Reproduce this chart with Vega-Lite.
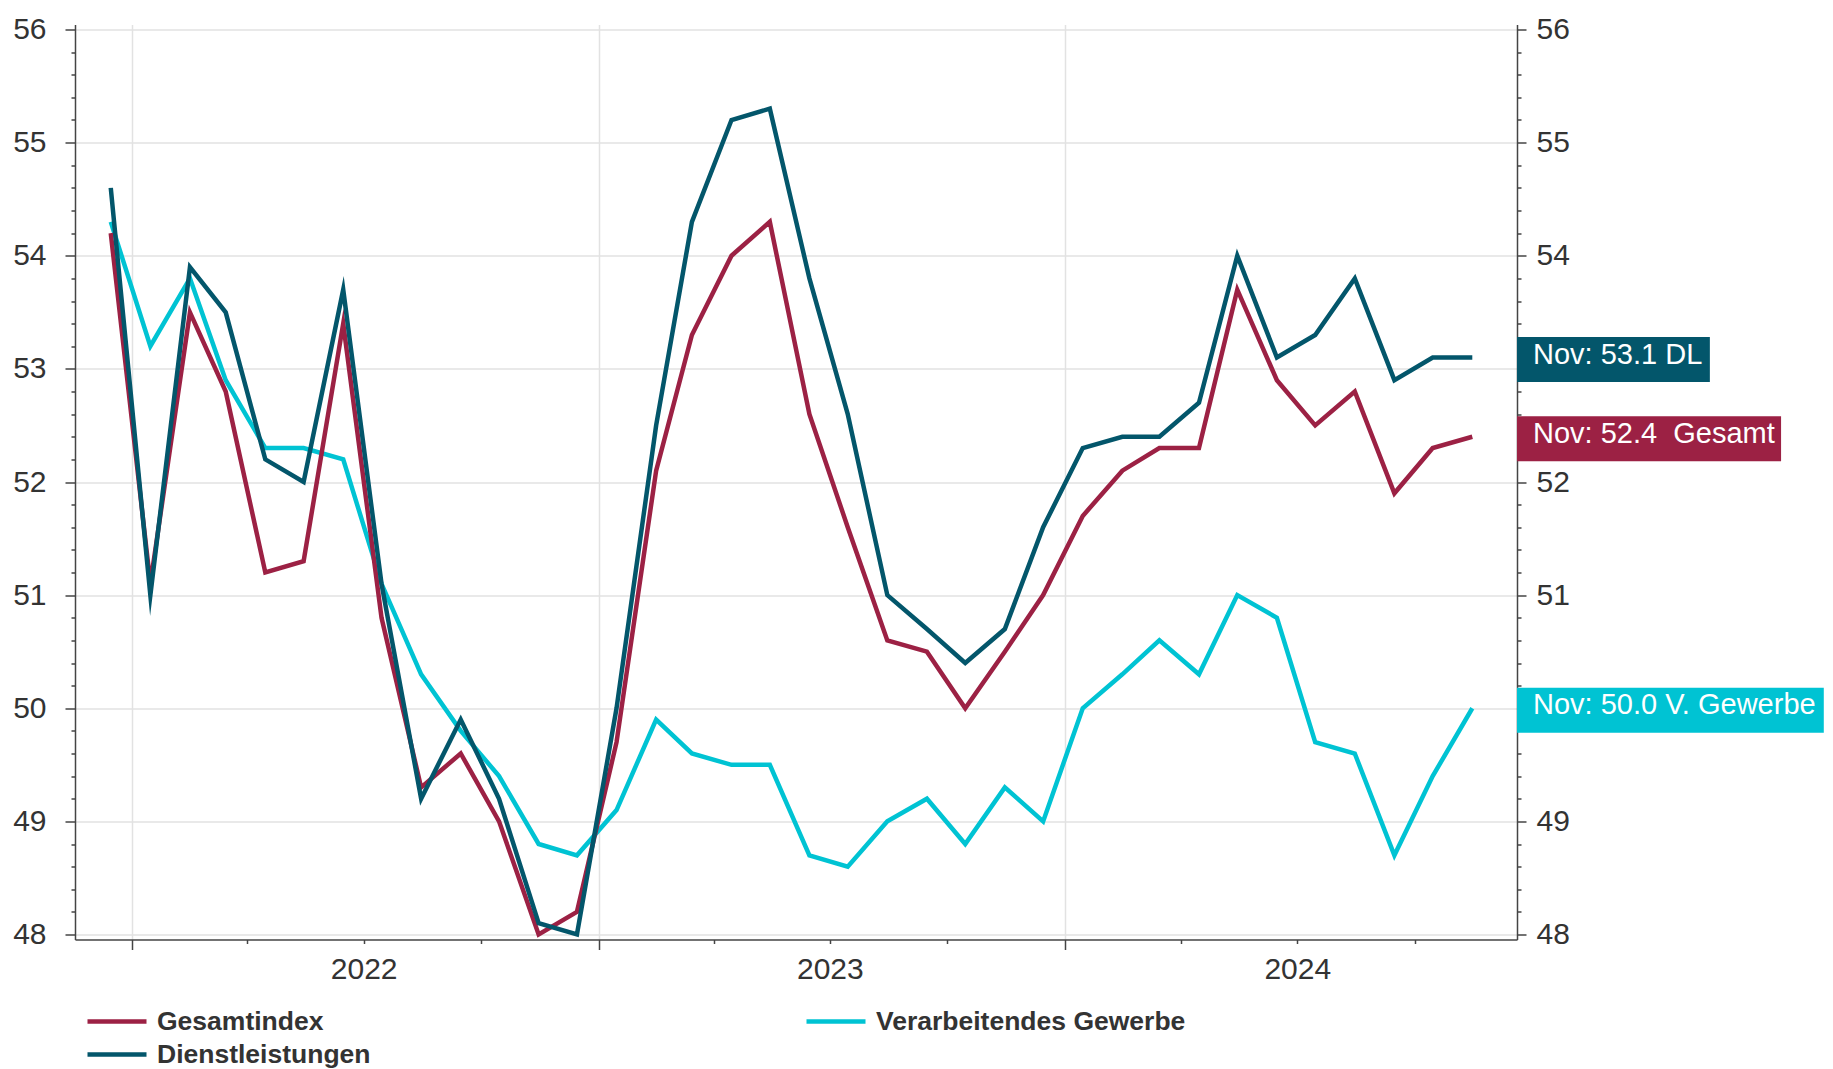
{
  "$schema": "https://vega.github.io/schema/vega-lite/v6.json",
  "width": 1442,
  "height": 915,
  "autosize": {"type": "none"},
  "padding": {"left": 75, "top": 24.5, "right": 316, "bottom": 129.5},
  "background": "white",
  "config": {
    "view": {"stroke": null},
    "font": "Liberation Sans",
    "axis": {"labelFont": "Liberation Sans", "titleFont": "Liberation Sans"},
    "legend": {"labelFont": "Liberation Sans"}
  },
  "datasets": {
    "pmi": [
      {"date": "2021-12-15", "Gesamtindex": 54.2, "Dienstleistungen": 54.6, "Verarbeitendes Gewerbe": 54.3},
      {"date": "2022-01-15", "Gesamtindex": 51.1, "Dienstleistungen": 51.0, "Verarbeitendes Gewerbe": 53.2},
      {"date": "2022-02-15", "Gesamtindex": 53.5, "Dienstleistungen": 53.9, "Verarbeitendes Gewerbe": 53.8},
      {"date": "2022-03-15", "Gesamtindex": 52.8, "Dienstleistungen": 53.5, "Verarbeitendes Gewerbe": 52.9},
      {"date": "2022-04-15", "Gesamtindex": 51.2, "Dienstleistungen": 52.2, "Verarbeitendes Gewerbe": 52.3},
      {"date": "2022-05-15", "Gesamtindex": 51.3, "Dienstleistungen": 52.0, "Verarbeitendes Gewerbe": 52.3},
      {"date": "2022-06-15", "Gesamtindex": 53.4, "Dienstleistungen": 53.7, "Verarbeitendes Gewerbe": 52.2},
      {"date": "2022-07-15", "Gesamtindex": 50.8, "Dienstleistungen": 51.1, "Verarbeitendes Gewerbe": 51.1},
      {"date": "2022-08-15", "Gesamtindex": 49.3, "Dienstleistungen": 49.2, "Verarbeitendes Gewerbe": 50.3},
      {"date": "2022-09-15", "Gesamtindex": 49.6, "Dienstleistungen": 49.9, "Verarbeitendes Gewerbe": 49.8},
      {"date": "2022-10-15", "Gesamtindex": 49.0, "Dienstleistungen": 49.2, "Verarbeitendes Gewerbe": 49.4},
      {"date": "2022-11-15", "Gesamtindex": 48.0, "Dienstleistungen": 48.1, "Verarbeitendes Gewerbe": 48.8},
      {"date": "2022-12-15", "Gesamtindex": 48.2, "Dienstleistungen": 48.0, "Verarbeitendes Gewerbe": 48.7},
      {"date": "2023-01-15", "Gesamtindex": 49.7, "Dienstleistungen": 50.0, "Verarbeitendes Gewerbe": 49.1},
      {"date": "2023-02-15", "Gesamtindex": 52.1, "Dienstleistungen": 52.5, "Verarbeitendes Gewerbe": 49.9},
      {"date": "2023-03-15", "Gesamtindex": 53.3, "Dienstleistungen": 54.3, "Verarbeitendes Gewerbe": 49.6},
      {"date": "2023-04-15", "Gesamtindex": 54.0, "Dienstleistungen": 55.2, "Verarbeitendes Gewerbe": 49.5},
      {"date": "2023-05-15", "Gesamtindex": 54.3, "Dienstleistungen": 55.3, "Verarbeitendes Gewerbe": 49.5},
      {"date": "2023-06-15", "Gesamtindex": 52.6, "Dienstleistungen": 53.8, "Verarbeitendes Gewerbe": 48.7},
      {"date": "2023-07-15", "Gesamtindex": 51.6, "Dienstleistungen": 52.6, "Verarbeitendes Gewerbe": 48.6},
      {"date": "2023-08-15", "Gesamtindex": 50.6, "Dienstleistungen": 51.0, "Verarbeitendes Gewerbe": 49.0},
      {"date": "2023-09-15", "Gesamtindex": 50.5, "Dienstleistungen": 50.7, "Verarbeitendes Gewerbe": 49.2},
      {"date": "2023-10-15", "Gesamtindex": 50.0, "Dienstleistungen": 50.4, "Verarbeitendes Gewerbe": 48.8},
      {"date": "2023-11-15", "Gesamtindex": 50.5, "Dienstleistungen": 50.7, "Verarbeitendes Gewerbe": 49.3},
      {"date": "2023-12-15", "Gesamtindex": 51.0, "Dienstleistungen": 51.6, "Verarbeitendes Gewerbe": 49.0},
      {"date": "2024-01-15", "Gesamtindex": 51.7, "Dienstleistungen": 52.3, "Verarbeitendes Gewerbe": 50.0},
      {"date": "2024-02-15", "Gesamtindex": 52.1, "Dienstleistungen": 52.4, "Verarbeitendes Gewerbe": 50.3},
      {"date": "2024-03-15", "Gesamtindex": 52.3, "Dienstleistungen": 52.4, "Verarbeitendes Gewerbe": 50.6},
      {"date": "2024-04-15", "Gesamtindex": 52.3, "Dienstleistungen": 52.7, "Verarbeitendes Gewerbe": 50.3},
      {"date": "2024-05-15", "Gesamtindex": 53.7, "Dienstleistungen": 54.0, "Verarbeitendes Gewerbe": 51.0},
      {"date": "2024-06-15", "Gesamtindex": 52.9, "Dienstleistungen": 53.1, "Verarbeitendes Gewerbe": 50.8},
      {"date": "2024-07-15", "Gesamtindex": 52.5, "Dienstleistungen": 53.3, "Verarbeitendes Gewerbe": 49.7},
      {"date": "2024-08-15", "Gesamtindex": 52.8, "Dienstleistungen": 53.8, "Verarbeitendes Gewerbe": 49.6},
      {"date": "2024-09-15", "Gesamtindex": 51.9, "Dienstleistungen": 52.9, "Verarbeitendes Gewerbe": 48.7},
      {"date": "2024-10-15", "Gesamtindex": 52.3, "Dienstleistungen": 53.1, "Verarbeitendes Gewerbe": 49.4},
      {"date": "2024-11-15", "Gesamtindex": 52.4, "Dienstleistungen": 53.1, "Verarbeitendes Gewerbe": 50.0}
    ],
    "labels": [
      {"Reihe": "Dienstleistungen", "Wert": 53.1, "label": "Nov: 53.1 DL"},
      {"Reihe": "Gesamtindex", "Wert": 52.4, "label": "Nov: 52.4\u00a0 Gesamt"},
      {"Reihe": "Verarbeitendes Gewerbe", "Wert": 50.0, "label": "Nov: 50.0 V. Gewerbe"}
    ]
  },
  "layer": [
    {
      "data": {"name": "pmi"},
      "transform": [
        {"fold": ["Verarbeitendes Gewerbe", "Gesamtindex", "Dienstleistungen"], "as": ["Reihe", "Wert"]}
      ],
      "mark": {"type": "line", "strokeWidth": 4.5, "strokeJoin": "miter", "strokeMiterLimit": 10, "strokeCap": "butt"},
      "encoding": {
        "x": {
          "field": "date",
          "type": "temporal",
          "scale": {
            "type": "utc",
            "domain": [
              {"year": 2021, "month": 11, "date": 17, "utc": true},
              {"year": 2024, "month": 12, "date": 20, "utc": true}
            ]
          },
          "axis": {
            "title": null,
            "values": [
              {"year": 2022, "month": 1, "date": 1, "utc": true},
              {"year": 2022, "month": 4, "date": 1, "utc": true},
              {"year": 2022, "month": 7, "date": 1, "utc": true},
              {"year": 2022, "month": 10, "date": 1, "utc": true},
              {"year": 2023, "month": 1, "date": 1, "utc": true},
              {"year": 2023, "month": 4, "date": 1, "utc": true},
              {"year": 2023, "month": 7, "date": 1, "utc": true},
              {"year": 2023, "month": 10, "date": 1, "utc": true},
              {"year": 2024, "month": 1, "date": 1, "utc": true},
              {"year": 2024, "month": 4, "date": 1, "utc": true},
              {"year": 2024, "month": 7, "date": 1, "utc": true},
              {"year": 2024, "month": 10, "date": 1, "utc": true}
            ],
            "labelExpr": "utcmonth(datum.value) == 6 ? utcFormat(datum.value, '%Y') : ''",
            "labelOverlap": false,
            "labelFlush": false,
            "labelBound": false,
            "labelFontSize": 30,
            "labelColor": "#333333",
            "labelPadding": 11,
            "grid": true,
            "gridColor": {"condition": {"test": "utcmonth(datum.value) == 0", "value": "#e2e2e2"}, "value": "rgba(0,0,0,0)"},
            "gridWidth": 1.5,
            "tickSize": {"condition": {"test": "utcmonth(datum.value) == 0", "value": 10}, "value": 4},
            "tickColor": "#444444",
            "tickWidth": 1.5,
            "domainColor": "#444444",
            "domainWidth": 1.5
          }
        },
        "y": {
          "field": "Wert",
          "type": "quantitative",
          "scale": {"domain": [48, 56], "zero": false, "nice": false},
          "axis": {
            "orient": "left",
            "title": null,
            "values": [48, 48.2, 48.4, 48.6, 48.8, 49, 49.2, 49.4, 49.6, 49.8, 50, 50.2, 50.4, 50.6, 50.8, 51, 51.2, 51.4, 51.6, 51.8, 52, 52.2, 52.4, 52.6, 52.8, 53, 53.2, 53.4, 53.6, 53.8, 54, 54.2, 54.4, 54.6, 54.8, 55, 55.2, 55.4, 55.6, 55.8, 56],
            "labelExpr": "abs(datum.value - round(datum.value)) < 0.01 ? format(datum.value, 'd') : ''",
            "labelOverlap": false,
            "labelFlush": false,
            "labelBound": false,
            "labelFontSize": 30,
            "labelColor": "#333333",
            "labelPadding": 19,
            "grid": true,
            "gridColor": {"condition": {"test": "abs(datum.value - round(datum.value)) < 0.01", "value": "#e2e2e2"}, "value": "rgba(0,0,0,0)"},
            "gridWidth": 1.5,
            "tickSize": {"condition": {"test": "abs(datum.value - round(datum.value)) < 0.01", "value": 10}, "value": 4},
            "tickColor": "#444444",
            "tickWidth": 1.5,
            "domainColor": "#444444",
            "domainWidth": 1.5
          }
        },
        "color": {
          "field": "Reihe",
          "type": "nominal",
          "scale": {
            "domain": ["Gesamtindex", "Verarbeitendes Gewerbe", "Dienstleistungen"],
            "range": ["#9c2144", "#00c3d3", "#03566b"]
          },
          "legend": {
            "title": null,
            "orient": "none",
            "legendX": 10,
            "legendY": 980.5,
            "columns": 2,
            "direction": "horizontal",
            "symbolType": "stroke",
            "symbolSize": 3481,
            "symbolStrokeWidth": 4.5,
            "clipHeight": 33,
            "labelFontSize": 26.5,
            "labelFontWeight": "bold",
            "labelColor": "#333333",
            "labelOffset": 8,
            "labelLimit": 600,
            "columnPadding": 433,
            "rowPadding": 0
          }
        }
      }
    },
    {
      "data": {"name": "labels"},
      "transform": [
        {"calculate": "utc(2024, 11, 20)", "as": "anchor"},
        {"calculate": "utc(2024, 11, 20) + (17.2 + 11.15 * length(datum.label)) * 86400000", "as": "boxEnd"}
      ],
      "mark": {"type": "bar", "orient": "horizontal", "height": 45, "yOffset": 2},
      "encoding": {
        "x": {"field": "anchor", "type": "temporal"},
        "x2": {"field": "boxEnd"},
        "y": {
          "field": "Wert",
          "type": "quantitative",
          "axis": {
            "orient": "right",
            "title": null,
            "values": [48, 48.2, 48.4, 48.6, 48.8, 49, 49.2, 49.4, 49.6, 49.8, 50, 50.2, 50.4, 50.6, 50.8, 51, 51.2, 51.4, 51.6, 51.8, 52, 52.2, 52.4, 52.6, 52.8, 53, 53.2, 53.4, 53.6, 53.8, 54, 54.2, 54.4, 54.6, 54.8, 55, 55.2, 55.4, 55.6, 55.8, 56],
            "labelExpr": "abs(datum.value - round(datum.value)) < 0.01 && datum.value != 50 && datum.value != 53 ? format(datum.value, 'd') : ''",
            "labelOverlap": false,
            "labelFlush": false,
            "labelBound": false,
            "labelFontSize": 30,
            "labelColor": "#333333",
            "labelPadding": 10,
            "grid": false,
            "tickSize": {"condition": {"test": "abs(datum.value - round(datum.value)) < 0.01", "value": 9}, "value": 4},
            "tickColor": "#444444",
            "tickWidth": 1.5,
            "domainColor": "#444444",
            "domainWidth": 1.5
          }
        },
        "color": {"field": "Reihe", "type": "nominal"}
      }
    },
    {
      "data": {"name": "labels"},
      "transform": [
        {"calculate": "utc(2024, 11, 20)", "as": "anchor"}
      ],
      "mark": {"type": "text", "align": "left", "baseline": "alphabetic", "dx": 16, "dy": 6, "fontSize": 29, "fill": "#ffffff"},
      "encoding": {
        "x": {"field": "anchor", "type": "temporal"},
        "y": {"field": "Wert", "type": "quantitative", "axis": null},
        "text": {"field": "label"}
      }
    }
  ],
  "resolve": {"axis": {"y": "independent"}}
}
